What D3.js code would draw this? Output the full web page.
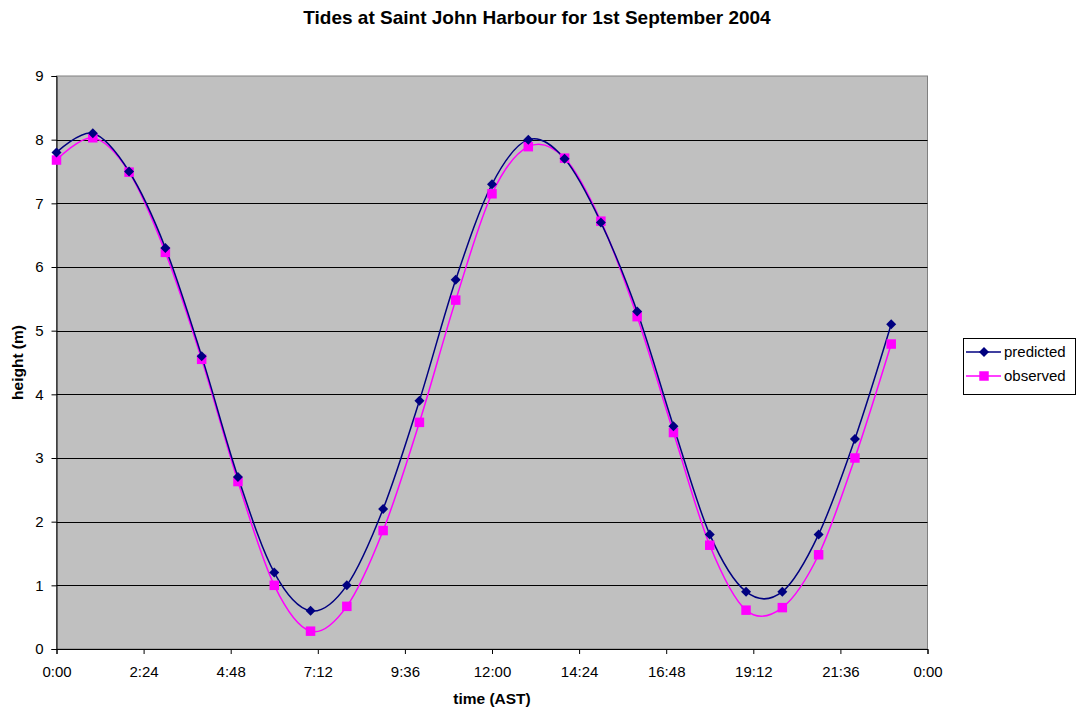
<!DOCTYPE html>
<html>
<head>
<meta charset="utf-8">
<script src="https://cdn.jsdelivr.net/npm/d3@7"></script>
<style>
  html, body { margin: 0; padding: 0; background: #fff; }
  svg { display: block; font-family: "Liberation Sans", Arial, sans-serif; }
</style>
</head>
<body>
<svg id="chart" width="1079" height="711"></svg>
<script>
// Hourly tide heights (m), 0:00 to 23:00 AST
const hours = [0,1,2,3,4,5,6,7,8,9,10,11,12,13,14,15,16,17,18,19,20,21,22,23];
const predicted = [7.8,8.1,7.5,6.3,4.6,2.7,1.2,0.6,1.0,2.2,3.9,5.8,7.3,8.0,7.7,6.7,5.3,3.5,1.8,0.9,0.9,1.8,3.3,5.1];
const observed  = [7.68,8.03,7.49,6.23,4.55,2.63,1.0,0.28,0.67,1.86,3.56,5.48,7.15,7.89,7.71,6.72,5.22,3.4,1.63,0.61,0.65,1.48,3.0,4.79];
const xTickLabels = ["0:00","2:24","4:48","7:12","9:36","12:00","14:24","16:48","19:12","21:36","0:00"];
const yTicks = [0,1,2,3,4,5,6,7,8,9];

const svg = d3.select("#chart");
const plot = { left: 56.5, top: 76, right: 927.5, bottom: 649 };

const x = d3.scaleLinear().domain([0, 24]).range([plot.left, plot.right]);
const y = d3.scaleLinear().domain([0, 9]).range([plot.bottom, plot.top]);

// title
svg.append("text")
  .attr("x", 537).attr("y", 24)
  .attr("text-anchor", "middle")
  .attr("font-size", 19).attr("font-weight", "bold")
  .text("Tides at Saint John Harbour for 1st September 2004");

// plot background
svg.append("rect")
  .attr("x", plot.left).attr("y", plot.top)
  .attr("width", plot.right - plot.left).attr("height", plot.bottom - plot.top)
  .attr("fill", "#c0c0c0")
  .attr("stroke", "#808080").attr("stroke-width", 1);

// horizontal gridlines
svg.append("g").selectAll("line")
  .data(yTicks.filter(d => d > 0 && d < 9))
  .join("line")
  .attr("x1", plot.left).attr("x2", plot.right)
  .attr("y1", d => Math.round(y(d)) + 0.5).attr("y2", d => Math.round(y(d)) + 0.5)
  .attr("stroke", "#000").attr("stroke-width", 1);

// y axis
const yAxis = d3.axisLeft(y).tickValues(yTicks).tickSize(5).tickPadding(8).tickFormat(d3.format("d"));
const gy = svg.append("g").attr("transform", `translate(${plot.left},0)`).call(yAxis);
gy.select(".domain").attr("stroke", "#000");
gy.selectAll("text").attr("font-size", 15).attr("fill", "#000");

// x axis
const xAxis = d3.axisBottom(x)
  .tickValues(d3.range(11).map(i => i * 2.4))
  .tickSize(5).tickPadding(12)
  .tickFormat((d, i) => xTickLabels[i]);
const gx = svg.append("g").attr("transform", `translate(0,${plot.bottom})`).call(xAxis);
gx.select(".domain").attr("stroke", "#000");
gx.selectAll("text").attr("font-size", 15).attr("fill", "#000");

// axis titles
svg.append("text")
  .attr("x", (plot.left + plot.right) / 2).attr("y", 704)
  .attr("text-anchor", "middle").attr("font-size", 15.5).attr("font-weight", "bold")
  .text("time (AST)");
svg.append("text")
  .attr("transform", `translate(23,${(plot.top + plot.bottom) / 2}) rotate(-90)`)
  .attr("text-anchor", "middle").attr("font-size", 15.5).attr("font-weight", "bold")
  .text("height (m)");

// series
const series = [
  { name: "predicted", values: predicted, color: "#000080", shape: "diamond" },
  { name: "observed",  values: observed,  color: "#ff00ff", shape: "square" }
];

const line = d3.line()
  .x(d => x(d[0])).y(d => y(d[1]))
  .curve(d3.curveCardinal.tension(0));

// rhombus marker: equal width and height
const diamondPath = (() => { const p = d3.path(); const r = 5; p.moveTo(0, -r); p.lineTo(r, 0); p.lineTo(0, r); p.lineTo(-r, 0); p.closePath(); return p.toString(); })();
const square = d3.symbol().type(d3.symbolSquare).size(90);

// draw observed first so predicted line sits on top, markers after
[series[1], series[0]].forEach(s => {
  const pts = hours.map((h, i) => [h, s.values[i]]);
  svg.append("path")
    .attr("d", line(pts))
    .attr("fill", "none")
    .attr("stroke", s.color).attr("stroke-width", 1.5);
});
[series[1], series[0]].forEach(s => {
  const pts = hours.map((h, i) => [h, s.values[i]]);
  svg.append("g").selectAll("path")
    .data(pts)
    .join("path")
    .attr("transform", d => `translate(${x(d[0])},${y(d[1])})`)
    .attr("d", s.shape === "diamond" ? diamondPath : square)
    .attr("fill", s.color);
});

// legend
const lg = svg.append("g");
lg.append("rect")
  .attr("x", 963.5).attr("y", 338.5).attr("width", 112).attr("height", 56)
  .attr("fill", "#fff").attr("stroke", "#000").attr("stroke-width", 1);
series.forEach((s, i) => {
  const cy = 352 + i * 24;
  lg.append("line")
    .attr("x1", 966).attr("x2", 1001).attr("y1", cy).attr("y2", cy)
    .attr("stroke", s.color).attr("stroke-width", 1.5);
  lg.append("path")
    .attr("transform", `translate(984,${cy})`)
    .attr("d", s.shape === "diamond" ? diamondPath : square)
    .attr("fill", s.color);
  lg.append("text")
    .attr("x", 1004).attr("y", cy + 5)
    .attr("font-size", 15)
    .text(s.name);
});
</script>
</body>
</html>
